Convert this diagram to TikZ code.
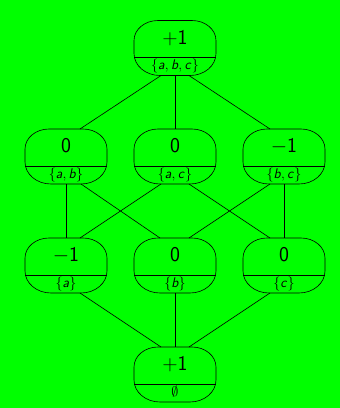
\RequirePackage{fix-cm}
\documentclass[tikz,border=0pt]{standalone}
\DeclareSymbolFont{sfletters}{OT1}{cmss}{m}{sl}
\DeclareSymbolFont{sfupright}{OT1}{cmss}{m}{n}
\DeclareMathSymbol{a}{\mathalpha}{sfletters}{`a}
\DeclareMathSymbol{b}{\mathalpha}{sfletters}{`b}
\DeclareMathSymbol{c}{\mathalpha}{sfletters}{`c}
\DeclareMathSymbol{0}{\mathalpha}{sfupright}{`0}
\DeclareMathSymbol{1}{\mathalpha}{sfupright}{`1}
\DeclareMathSymbol{+}{\mathbin}{sfupright}{`+}
\definecolor{bg}{RGB}{0,255,0}
\tikzset{
  latbox/.style={minimum width=82pt, minimum height=55pt, inner sep=0pt, outer sep=0pt},
  valtxt/.style={font=\fontsize{21}{25}\selectfont, inner sep=0pt, anchor=base},
  settxt/.style={font=\fontsize{14}{17}\selectfont, inner sep=0pt, anchor=base},
  conn/.style={line width=0.6pt}
}
\newcommand{\latnode}[5]{%
  \node[latbox] (#1) at (#2,#3) {};
  \draw[conn] ([xshift=24pt]#1.north west) -- ([xshift=-24pt]#1.north east)
    arc[start angle=90, end angle=0, x radius=24pt, y radius=20pt]
    -- ([yshift=22pt]#1.south east)
    arc[start angle=0, end angle=-90, x radius=26pt, y radius=22pt]
    -- ([xshift=26pt]#1.south west)
    arc[start angle=270, end angle=180, x radius=26pt, y radius=22pt]
    -- ([yshift=-20pt]#1.north west)
    arc[start angle=180, end angle=90, x radius=24pt, y radius=20pt] -- cycle;
  \draw[conn] ([yshift=18pt,xshift=0.4pt]#1.south west) -- ([yshift=18pt,xshift=-0.4pt]#1.south east);
  \node[valtxt] (v#1) at (#2,#3-4) {$#4$};
  \node[settxt] (s#1) at (#2,#3+21.5) {$#5$};
}
\begin{document}
\begin{tikzpicture}[x=1pt,y=-1pt]
\fill[bg] (0,0) rectangle (340,408);
\useasboundingbox (0,0) rectangle (340,408);
\latnode{n0}{175}{48}{+1}{\{a, b, c\}}
\latnode{n1}{66}{156.5}{0}{\{a, b\}}
\latnode{n2}{175}{156.5}{0}{\{a, c\}}
\latnode{n3}{284}{156.5}{-1}{\{b, c\}}
\latnode{n4}{66}{265.5}{-1}{\{a\}}
\latnode{n5}{175}{265.5}{0}{\{b\}}
\latnode{n6}{284}{265.5}{0}{\{c\}}
\latnode{n7}{175}{374.5}{+1}{\emptyset}
\draw[conn] ([xshift=-14pt]n0.south) -- ([xshift=14pt]n1.north);
\draw[conn] (n0.south) -- (n2.north);
\draw[conn] ([xshift=14pt]n0.south) -- ([xshift=-14pt]n3.north);
\draw[conn] (n1.south) -- (n4.north);
\draw[conn] ([xshift=15pt]n1.south) -- ([xshift=-15pt]n5.north);
\draw[conn] ([xshift=-14pt]n2.south) -- ([xshift=14pt]n4.north);
\draw[conn] ([xshift=14pt]n2.south) -- ([xshift=-14pt]n6.north);
\draw[conn] ([xshift=-14pt]n3.south) -- ([xshift=14pt]n5.north);
\draw[conn] (n3.south) -- (n6.north);
\draw[conn] ([xshift=14pt]n4.south) -- ([xshift=-14pt]n7.north);
\draw[conn] (n5.south) -- (n7.north);
\draw[conn] ([xshift=-14pt]n6.south) -- ([xshift=14pt]n7.north);
\end{tikzpicture}
\end{document}
